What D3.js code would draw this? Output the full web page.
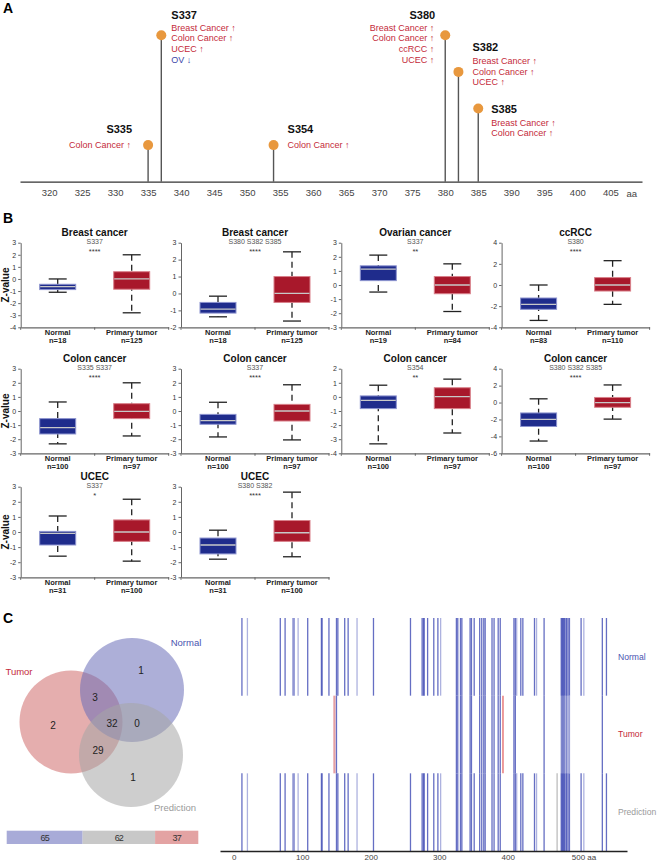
<!DOCTYPE html>
<html>
<head>
<meta charset="utf-8">
<script src="https://cdn.jsdelivr.net/npm/d3@7"></script>
<style>
body { margin: 0; background: #fff; }
svg { display: block; font-family: "Liberation Sans", Arial, sans-serif; }
</style>
</head>
<body>
<div id="chart"></div>
<script>
// ---- Panel A data
const siteNames = ["S335", "S337", "S354", "S380", "S382", "S385"];
const sitePos = [335, 337, 354, 380, 382, 385];
const siteCancers = [
    ["Colon Cancer ↑"],
    ["Breast Cancer ↑", "Colon Cancer ↑", "UCEC ↑", "OV ↓"],
    ["Colon Cancer ↑"],
    ["Breast Cancer ↑", "Colon Cancer ↑", "ccRCC ↑", "UCEC ↑"],
    ["Breast Cancer ↑", "Colon Cancer ↑", "UCEC ↑"],
    ["Breast Cancer ↑", "Colon Cancer ↑"],
];
const aTicks = [320, 325, 330, 335, 340, 345, 350, 355, 360, 365, 370, 375, 380, 385, 390, 395, 400, 405];

// ---- Panel B data
const boxTitles = ["Breast cancer", "Breast cancer", "Ovarian cancer", "ccRCC", "Colon cancer", "Colon cancer", "Colon cancer", "Colon cancer", "UCEC", "UCEC"];
const boxSites = ["S337", "S380 S382 S385", "S337", "S380", "S335 S337", "S337", "S354", "S380 S382 S385", "S337", "S380 S382"];
const boxStars = ["****", "****", "**", "****", "****", "****", "**", "****", "*", "****"];
const yDomains = [[-4, 3], [-2, 3], [-3, 3], [-4, 4], [-3, 3], [-3, 3], [-4, 2], [-6, 4], [-3, 3], [-3, 3]];
const yStep = [1, 1, 1, 2, 1, 1, 1, 2, 1, 1];
const groups = ["Normal", "Primary tumor"];
const nNormal = [18, 18, 19, 83, 100, 100, 100, 100, 31, 31];
const nTumor = [125, 125, 84, 110, 97, 97, 97, 97, 100, 100];
// min, q1, median, q3, max
const normalStats = [
    [-1.1, -0.88, -0.63, -0.44, 0.0],
    [-1.38, -1.16, -0.93, -0.53, -0.16],
    [-0.5, 0.31, 1.12, 1.36, 2.12],
    [-3.35, -2.3, -1.83, -1.23, 0.0],
    [-2.33, -1.63, -1.18, -0.54, 0.64],
    [-1.84, -0.94, -0.68, -0.24, 0.62],
    [-3.33, -0.83, -0.24, 0.07, 0.83],
    [-4.55, -2.83, -2.0, -1.23, 0.44],
    [-1.6, -0.86, -0.09, 0.04, 1.06],
    [-1.8, -1.45, -0.86, -0.4, 0.12],
];
const tumorStats = [
    [-2.8, -0.85, 0.0, 0.6, 2.0],
    [-1.63, -0.53, 0.0, 1.0, 2.46],
    [-1.88, -0.62, 0.0, 0.6, 1.5],
    [-1.83, -0.57, 0.0, 0.7, 2.3],
    [-1.77, -0.54, -0.02, 0.52, 2.0],
    [-2.05, -0.71, 0.0, 0.47, 1.86],
    [-2.56, -0.83, 0.02, 0.65, 1.26],
    [-1.96, -0.56, 0.0, 0.6, 2.08],
    [-1.93, -0.62, 0.0, 0.8, 2.17],
    [-1.64, -0.62, -0.05, 0.76, 2.64],
];

// ---- Panel C data
const vennSets = ["Tumor", "Normal", "Prediction"];
const vennRegions = ["Normal", "Tumor", "Normal+Tumor", "All", "Normal+Prediction", "Tumor+Prediction", "Prediction"];
const vennCounts = [1, 2, 3, 32, 0, 29, 1];
const barValues = [65, 62, 37];
const rowNames = ["Normal", "Tumor", "Prediction"];
const normalSites = [12, 20, 68, 75, 86, 88, 94, 108, 128, 129, 139, 150, 152, 162, 167, 180, 204, 258, 275, 277, 278, 283, 292, 298, 302,
    325, 327, 331, 333, 345, 347, 351, 359, 362, 365, 367, 377, 380, 386, 389, 409, 411, 413, 419, 422, 439, 442, 453,
    478, 479, 480, 481, 482, 483, 485, 486, 488, 490, 507, 511, 538, 544];
const tumorSites = [147, 150, 325, 327, 331, 333, 345, 347, 359, 362, 365, 367, 377, 380, 386, 389, 393, 409, 411, 453,
    478, 479, 480, 481, 482, 483, 485, 486, 488, 490, 538];
const predictionSites = [12, 20, 68, 75, 86, 88, 94, 108, 128, 129, 139, 150, 152, 162, 167, 180, 204, 258, 275, 277, 278, 283, 292, 298, 302,
    325, 327, 331, 333, 345, 347, 351, 359, 362, 365, 367, 377, 380, 386, 389, 409, 411, 413, 419, 422, 439, 442, 453,
    472, 478, 479, 480, 481, 482, 483, 485, 486, 488, 490, 507, 511, 538, 544];
const lightSites = [20, 86, 94, 180, 302, 413, 442, 511];
const cTicks = [0, 100, 200, 300, 400, 500];

const width = 659;
const height = 861;
const red = "#c42a3a";
const blue = "#3b46a8";

const svg = d3.select("#chart")
    .append("svg")
    .attr("width", width)
    .attr("height", height);

// Panel letters
[["A", 12.5], ["B", 223], ["C", 623]].forEach(([t, y]) => {
    svg.append("text").attr("x", 3).attr("y", y)
        .attr("font-size", 14).attr("font-weight", "bold").text(t);
});

// ================= Panel A =================
const xA = d3.scaleLinear().domain([315.6, 409.8]).range([20, 642]);
const yA = d3.scaleLinear().domain([0, 4]).range([181.7, 35.3]);

const axA = svg.append("g")
    .attr("transform", `translate(0,${yA(0)})`)
    .call(d3.axisBottom(xA).tickValues(aTicks).tickSize(0).tickPadding(8));
axA.select(".domain").attr("stroke", "#333").attr("stroke-width", 1.3);
axA.selectAll("text").attr("font-size", 9.5).attr("fill", "#444").attr("font-family", null);
svg.append("text").attr("x", 631.7).attr("y", 196.5).attr("text-anchor", "middle")
    .attr("font-size", 9.5).attr("fill", "#444").text("aa");

// label placement per site (anchor, x offset, title offset, first line offset)
const labelLayout = [
    { anchor: "end", dx: -17, ty: -16, ly: 0 },
    { anchor: "start", dx: 10, ty: -20, ly: -8 },
    { anchor: "start", dx: 14, ty: -16, ly: 0 },
    { anchor: "end", dx: -11, ty: -20, ly: -8 },
    { anchor: "start", dx: 14, ty: -25, ly: -11.4 },
    { anchor: "start", dx: 13, ty: 0.7, ly: 13.7 },
];

const sites = siteNames.map((name, i) => ({ name, pos: sitePos[i], cancers: siteCancers[i], lay: labelLayout[i] }));

const gA = svg.append("g");
gA.selectAll("line.stem")
    .data(sites).enter().append("line")
    .attr("class", "stem")
    .attr("x1", d => xA(d.pos)).attr("x2", d => xA(d.pos))
    .attr("y1", yA(0)).attr("y2", d => yA(d.cancers.length))
    .attr("stroke", "#555").attr("stroke-width", 1.4);
gA.selectAll("circle")
    .data(sites).enter().append("circle")
    .attr("cx", d => xA(d.pos)).attr("cy", d => yA(d.cancers.length))
    .attr("r", 5).attr("fill", "#e8983e");

sites.forEach(d => {
    const cx = xA(d.pos), cy = yA(d.cancers.length);
    const L = d.lay;
    gA.append("text")
        .attr("x", cx + L.dx + (L.anchor === "end" ? 1 : 0)).attr("y", cy + L.ty + 4)
        .attr("text-anchor", L.anchor).attr("font-size", 11).attr("font-weight", "bold")
        .attr("fill", "#111").text(d.name);
    d.cancers.forEach((c, j) => {
        gA.append("text")
            .attr("x", cx + L.dx).attr("y", cy + L.ly + j * 10.7 + 3.3)
            .attr("text-anchor", L.anchor).attr("font-size", 9)
            .attr("fill", c.includes("↓") ? blue : red).text(c);
    });
});

// ================= Panel B =================
const rowTop = [242.7, 368.7, 486.7];
const rowBot = [327.3, 453.3, 577.3];
const plotW = 148;
const boxW = 36;

boxTitles.forEach((title, i) => {
    const col = i % 4, row = Math.floor(i / 4);
    const x0 = 20.7 + col * 160.3;
    const g = svg.append("g");
    const y = d3.scaleLinear().domain(yDomains[i]).range([rowBot[row], rowTop[row]]);
    const x = d3.scaleBand().domain(groups).range([x0, x0 + plotW]);

    // y axis
    const ticks = d3.range(yDomains[i][0], yDomains[i][1] + 0.01, yStep[i]);
    const ay = g.append("g").attr("transform", `translate(${x0},0)`)
        .call(d3.axisLeft(y).tickValues(ticks).tickFormat(d => String(d))
            .tickSize(2.5).tickPadding(2).tickSizeOuter(0));
    ay.selectAll("text").attr("font-size", 7).attr("fill", "#333").attr("font-family", null);
    ay.selectAll("line, .domain").attr("stroke", "#666");

    // x axis
    const ax = g.append("g").attr("transform", `translate(0,${rowBot[row]})`)
        .call(d3.axisBottom(x).tickSize(0).tickFormat(""));
    ax.select(".domain").attr("stroke", "#666").attr("stroke-width", 1.2);
    [x0, x0 + plotW / 2, x0 + plotW].forEach(tx => {
        g.append("line").attr("x1", tx).attr("x2", tx)
            .attr("y1", rowBot[row]).attr("y2", rowBot[row] + 2.5).attr("stroke", "#666");
    });

    // group labels
    const nVals = [nNormal[i], nTumor[i]];
    groups.forEach((grp, k) => {
        const cx = x(grp) + x.bandwidth() / 2;
        g.append("text").attr("x", cx).attr("y", rowBot[row] + 8)
            .attr("text-anchor", "middle").attr("font-size", 7.5).attr("font-weight", "bold")
            .attr("fill", "#222").text(grp);
        g.append("text").attr("x", cx).attr("y", rowBot[row] + 16)
            .attr("text-anchor", "middle").attr("font-size", 7.5).attr("font-weight", "bold")
            .attr("fill", "#222").text("n=" + nVals[k]);
    });

    // titles
    const mid = x0 + plotW / 2;
    g.append("text").attr("x", mid).attr("y", rowTop[row] - 7)
        .attr("text-anchor", "middle").attr("font-size", 10).attr("font-weight", "bold")
        .attr("fill", "#111").text(title);
    g.append("text").attr("x", mid).attr("y", rowTop[row] + 1)
        .attr("text-anchor", "middle").attr("font-size", 7).attr("fill", "#555").text(boxSites[i]);
    g.append("text").attr("x", mid).attr("y", rowTop[row] + 11)
        .attr("text-anchor", "middle").attr("font-size", 7.5).attr("fill", "#333").text(boxStars[i]);

    if (col === 0) {
        const yc = (rowTop[row] + rowBot[row]) / 2;
        g.append("text").attr("transform", `translate(9,${yc}) rotate(-90)`)
            .attr("text-anchor", "middle").attr("font-size", 10).attr("font-weight", "bold")
            .attr("fill", "#111").text("Z-value");
    }

    // boxes
    const stats = [normalStats[i], tumorStats[i]];
    const fills = ["#1f2c8c", "#a8182b"];
    const edges = ["#8c93cf", "#d9808a"];
    groups.forEach((grp, k) => {
        const s = stats[k];
        const cx = x(grp) + x.bandwidth() / 2;
        g.append("line").attr("x1", cx).attr("x2", cx)
            .attr("y1", y(s[4])).attr("y2", y(s[0]))
            .attr("stroke", "#222").attr("stroke-width", 1.3).attr("stroke-dasharray", "6,4");
        [s[0], s[4]].forEach(v => {
            g.append("line").attr("x1", cx - 9).attr("x2", cx + 9)
                .attr("y1", y(v)).attr("y2", y(v))
                .attr("stroke", "#222").attr("stroke-width", 1.3);
        });
        g.append("rect").attr("x", cx - boxW / 2).attr("width", boxW)
            .attr("y", y(s[3])).attr("height", y(s[1]) - y(s[3]))
            .attr("fill", fills[k]).attr("stroke", edges[k]).attr("stroke-width", 1);
        g.append("line").attr("x1", cx - boxW / 2 + 0.5).attr("x2", cx + boxW / 2 - 0.5)
            .attr("y1", y(s[2])).attr("y2", y(s[2]))
            .attr("stroke", "#c8c8c8").attr("stroke-width", 1.3);
    });
});

// ================= Panel C: Venn =================
const vennCircles = [
    { cx: 71, cy: 722, r: 51.5, fill: "#d06c6c" },
    { cx: 132, cy: 690, r: 52, fill: "#6a6eb8" },
    { cx: 131, cy: 755, r: 52, fill: "#a5a5a5" },
];
const gV = svg.append("g");
gV.selectAll("circle")
    .data(vennSets).enter().append("circle")
    .attr("cx", (d, i) => vennCircles[i].cx).attr("cy", (d, i) => vennCircles[i].cy)
    .attr("r", (d, i) => vennCircles[i].r)
    .attr("fill", (d, i) => vennCircles[i].fill).attr("fill-opacity", 0.55);

const vennLabelPos = [[141, 670], [53, 725], [95, 697], [112, 723], [137, 723], [98, 750], [133, 777]];
gV.selectAll("text.count")
    .data(vennCounts).enter().append("text")
    .attr("class", "count")
    .attr("x", (d, i) => vennLabelPos[i][0]).attr("y", (d, i) => vennLabelPos[i][1] + 3.5)
    .attr("text-anchor", "middle").attr("font-size", 10).attr("fill", "#222")
    .text(d => d);

const setLabelPos = [[19, 674.5, red], [186, 645.5, "#4a55b0"], [175, 810.5, "#9a9a9a"]];
vennSets.forEach((s, i) => {
    gV.append("text").attr("x", setLabelPos[i][0]).attr("y", setLabelPos[i][1])
        .attr("text-anchor", "middle").attr("font-size", 9.5).attr("fill", setLabelPos[i][2]).text(s);
});

// stacked bar
const xBar = d3.scaleLinear().domain([0, d3.sum(barValues)]).range([6.7, 198.3]);
const barColors = ["#a8abd8", "#c8c8c8", "#e3a3a3"];
const cum = d3.cumsum(barValues);
const barG = svg.append("g");
barValues.forEach((v, i) => {
    const a = xBar(cum[i] - v), b = xBar(cum[i]);
    barG.append("rect").attr("x", a).attr("width", b - a).attr("y", 830.7).attr("height", 13.3)
        .attr("fill", barColors[i]);
    barG.append("text").attr("x", (a + b) / 2).attr("y", 840.5).attr("text-anchor", "middle")
        .attr("font-size", 9).attr("fill", "#333").attr("letter-spacing", -0.8).text(v);
});

// ================= Panel C: site barcode =================
const xC = d3.scaleLinear().domain([-20, 574]).range([220, 627]);
const yC = d3.scaleBand().domain(rowNames).range([618, 851]);
const rowSites = [normalSites, tumorSites, predictionSites];
const gC = svg.append("g");

rowNames.forEach((rn, r) => {
    rowSites[r].forEach(p => {
        const inN = normalSites.includes(p);
        let col, op = 0.85, sw = 1.3;
        if (inN) {
            col = "#4a55b8";
            if (lightSites.includes(p)) op = 0.45;
            if (r === 1 && p >= 478 && p <= 490) op = 0.55;
        } else if (r === 1) {
            col = p < 200 ? "#e6a0a3" : "#e05a5a";
            sw = p < 200 ? 2.2 : 1.2;
            op = 1;
        } else {
            col = "#bdbdbd";
            op = 1;
        }
        gC.append("line")
            .attr("x1", xC(p)).attr("x2", xC(p))
            .attr("y1", yC(rn)).attr("y2", yC(rn) + yC.bandwidth())
            .attr("stroke", col).attr("stroke-opacity", op).attr("stroke-width", sw);
    });
});

const axC = gC.append("g").attr("transform", `translate(0,851)`)
    .call(d3.axisBottom(xC).tickValues(cTicks).tickSize(0).tickPadding(3)
        .tickFormat(d => d === 500 ? "500 aa" : d));
axC.select(".domain").attr("stroke", "#222").attr("stroke-width", 1.4);
axC.selectAll("text").attr("font-size", 8).attr("fill", "#444").attr("font-family", null);
axC.selectAll(".tick").filter(d => d === 500).select("text").attr("dx", "0.9em");

const rowLabelColors = ["#4a55b0", red, "#9a9a9a"];
rowNames.forEach((rn, i) => {
    gC.append("text").attr("x", 618).attr("y", [660, 736.5, 814.5][i])
        .attr("font-size", 8.6).attr("fill", rowLabelColors[i]).text(rn);
});
</script>
</body>
</html>
